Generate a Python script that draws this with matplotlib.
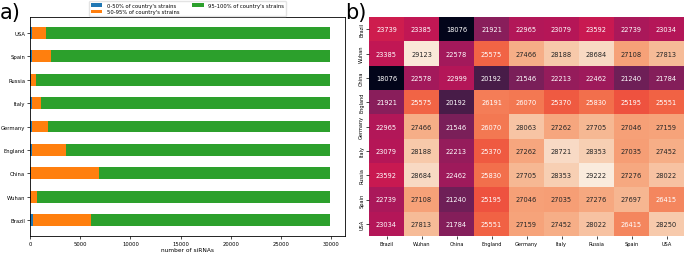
import matplotlib
matplotlib.use("Agg")
import matplotlib.pyplot as plt
import numpy as np
import seaborn as sns

countries = ["Brazil", "Wuhan", "China", "England", "Germany", "Italy", "Russia", "Spain", "USA"]
total_sirnas = 29883
low = [250, 20, 80, 170, 200, 160, 120, 150, 170]           # 0-50%
mid_end = [6040, 720, 6830, 3630, 1750, 1090, 600, 2080, 1580]  # cumulative end of 50-95%
mid = [m - l for m, l in zip(mid_end, low)]
high = [total_sirnas - m for m in mid_end]

heat = np.array([
    [23739, 23385, 18076, 21921, 22965, 23079, 23592, 22739, 23034],
    [23385, 29123, 22578, 25575, 27466, 28188, 28684, 27108, 27813],
    [18076, 22578, 22999, 20192, 21546, 22213, 22462, 21240, 21784],
    [21921, 25575, 20192, 26191, 26070, 25370, 25830, 25195, 25551],
    [22965, 27466, 21546, 26070, 28063, 27262, 27705, 27046, 27159],
    [23079, 28188, 22213, 25370, 27262, 28721, 28353, 27035, 27452],
    [23592, 28684, 22462, 25830, 27705, 28353, 29222, 27276, 28022],
    [22739, 27108, 21240, 25195, 27046, 27035, 27276, 27697, 26415],
    [23034, 27813, 21784, 25551, 27159, 27452, 28022, 26415, 28250],
])

fig = plt.figure(figsize=(6.85, 2.55), dpi=100)

# Panel a
ax1 = fig.add_axes([30/685, 1-237/255, 315/685, 219/255])
y = np.arange(len(countries))
ax1.barh(y, low, height=0.5, color="#1f77b4", label="0-50% of country's strains")
ax1.barh(y, mid, height=0.5, left=low, color="#ff7f0e", label="50-95% of country's strains")
ax1.barh(y, high, height=0.5, left=mid_end, color="#2ca02c", label="95-100% of country's strains")
ax1.set_yticks(y)
ax1.set_yticklabels(countries)
ax1.set_xticks([0, 5000, 10000, 15000, 20000, 25000, 30000])
ax1.tick_params(labelsize=3.8, length=2, width=0.5, pad=1.5)
ax1.set_xlabel("number of siRNAs", fontsize=4.2, labelpad=1)
for s in ax1.spines.values():
    s.set_linewidth(0.6)
ax1.legend(loc="lower center", bbox_to_anchor=(0.5, 1.0), ncol=2, fontsize=3.8,
           frameon=True, borderaxespad=0.25, handlelength=2.2, handleheight=0.6,
           columnspacing=2.5, labelspacing=0.25, borderpad=0.3, edgecolor="#dddddd")
fig.text(0.0, 1-19/255, "a)", fontsize=15, ha="left", va="baseline")

# Panel b
ax2 = fig.add_axes([369/685, 1-237/255, 315/685, 219/255])
sns.heatmap(heat, ax=ax2, cmap="rocket", annot=True, fmt="d", cbar=False,
            annot_kws={"fontsize": 4.8}, xticklabels=countries, yticklabels=countries)
ax2.tick_params(labelsize=3.6, length=2, width=0.5, pad=1.5)
ax2.set_yticklabels(countries, rotation=90, va="center")
ax2.set_xticklabels(countries, rotation=0)
fig.text(345/685, 1-19/255, "b)", fontsize=15, ha="left", va="baseline")

fig.savefig("out.png", dpi=100)
